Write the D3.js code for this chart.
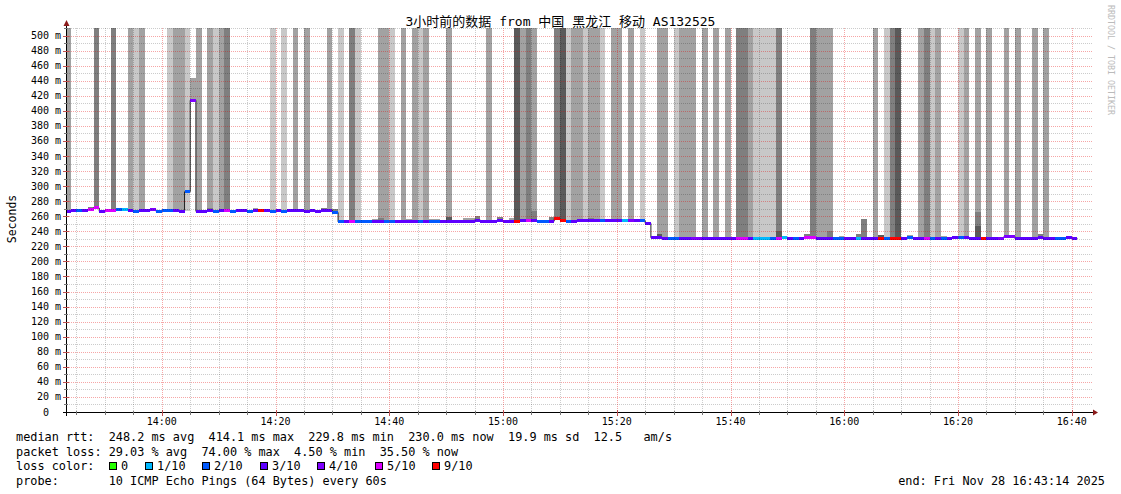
<!DOCTYPE html>
<html>
<head>
<meta charset="utf-8">
<script src="https://cdn.jsdelivr.net/npm/d3@7"></script>
<style>
body { margin: 0; background: #fff; }
svg text { font-family: "DejaVu Sans Mono", "Noto Sans CJK SC", monospace; fill: #000; }
</style>
</head>
<body>
<svg id="chart" width="1121" height="494"></svg>
<script>
// one value per minute, first bin starts 13:43
var median = [
  266.5, 268, 267.5, 267, 269, 271, 266.5, 268, 268, 268.5,
  268.5, 267.5, 266.5, 267.5, 267.5, 268.5, 266.5, 267.5, 267.5, 268,
  266.5, 292.5, 414, 266.5, 266.5, 267, 266.5, 267.5, 268, 266.5,
  267, 267.5, 266.5, 267.5, 267, 267.5, 266.5, 267.5, 266.5, 267.5,
  267.5, 267.5, 266.5, 267, 266.5, 268, 267.5, 265, 252.5, 253,
  253.5, 252.5, 252.5, 253, 253.5, 253.5, 253, 252.5, 253.5, 253.5,
  253.5, 253, 253, 253.5, 252.5, 252.5, 253.5, 253.5, 253.5, 252.5,
  253.5, 253.5, 255, 253.5, 253, 253.5, 254, 252.5, 253, 253,
  254, 254, 254, 253, 253, 253.5, 257, 255, 253, 253.5,
  254, 254.5, 254.5, 254.5, 254, 254.5, 254, 254, 254, 254.5,
  254, 254, 250.5, 231.5, 231.5, 230, 230, 230, 230.5, 230.5,
  230.5, 230.5, 231, 231, 230, 230.5, 230.5, 230.5, 231, 231,
  230, 230, 230, 230, 230.5, 231, 231.5, 230.5, 230, 230.5,
  232, 231.5, 231, 231, 230.5, 230.5, 230.5, 230.5, 230.5, 230,
  230.5, 230.5, 230.5, 230.5, 230.5, 230.5, 230.5, 230.5, 231.5, 230.5,
  230.5, 230, 231, 230.5, 230.5, 230.5, 231.5, 231.5, 231.5, 231,
  230.5, 230, 230.5, 230.5, 231, 232.5, 232.5, 230.5, 230.5, 230.5,
  231, 231.5, 231, 230.5, 230.5, 230.5, 231.5, 230.5
];

// lost pings out of 10
var loss = [
  3, 3, 2, 3, 5, 5, 3, 5, 5, 2,
  1, 3, 2, 3, 3, 4, 2, 2, 2, 3,
  3, 2, 4, 3, 3, 3, 2, 3, 5, 2,
  3, 3, 2, 3, 9, 3, 2, 3, 2, 3,
  3, 3, 3, 3, 3, 3, 3, 2, 2, 3,
  5, 2, 2, 2, 3, 3, 2, 2, 3, 3,
  3, 3, 2, 3, 2, 2, 3, 3, 3, 3,
  3, 3, 3, 3, 3, 3, 3, 3, 3, 9,
  3, 5, 3, 2, 2, 3, 9, 9, 2, 3,
  3, 3, 3, 3, 2, 3, 3, 3, 1, 4,
  3, 2, 3, 3, 3, 3, 2, 2, 3, 3,
  4, 4, 3, 3, 3, 3, 3, 3, 5, 5,
  3, 1, 1, 1, 2, 5, 1, 3, 2, 3,
  5, 5, 3, 3, 3, 2, 2, 3, 3, 1,
  3, 3, 3, 9, 2, 9, 9, 3, 2, 3,
  3, 5, 2, 3, 2, 3, 3, 2, 3, 3,
  3, 9, 3, 3, 4, 4, 4, 3, 3, 3,
  3, 3, 3, 3, 2, 2, 3, 3
];

// smoke above the median that runs off the top: 0 none, 1 light .. 4 dark
var smoke = [
  2, 0, 0, 0, 0, 3, 0, 0, 3, 0,
  0, 2, 1, 2, 0, 0, 0, 0, 1, 2,
  2, 1, 0, 2, 0, 2, 1, 2, 3, 0,
  0, 0, 0, 0, 0, 0, 1, 0, 1, 0,
  2, 0, 2, 0, 0, 0, 2, 0, 1, 0,
  3, 1, 0, 0, 0, 2, 2, 1, 0, 2,
  0, 2, 1, 2, 0, 0, 0, 2, 0, 0,
  0, 0, 0, 0, 2, 0, 0, 0, 0, 4,
  2, 3, 2, 0, 0, 0, 3, 4, 1, 2,
  2, 1, 2, 2, 1, 0, 2, 2, 0, 2,
  0, 1, 0, 0, 2, 2, 0, 1, 2, 2,
  2, 0, 2, 0, 2, 0, 2, 0, 3, 3,
  2, 1, 1, 1, 1, 3, 0, 0, 0, 0,
  0, 3, 2, 2, 2, 0, 0, 0, 0, 0,
  0, 0, 2, 0, 1, 3, 4, 0, 0, 0,
  2, 3, 1, 2, 0, 0, 0, 1, 2, 0,
  2, 0, 2, 0, 0, 2, 0, 2, 0, 0,
  2, 0, 2, 0, 0, 0, 0, 0
];

// smaller smoke bands: bin, low ms, high ms, shade
var capBin   = [1, 3, 4, 21, 22, 25, 33, 45, 47, 54, 55, 60, 64, 65, 67, 70, 71, 72, 76, 78, 82, 85, 92,
                104, 125, 130, 134, 136, 139, 140, 143, 148, 154, 160, 160, 171, 176];
var capLo    = [267, 267, 269, 266.5, 414, 267, 267.5, 268, 265, 253.5, 253.5, 253.5, 252.5, 252.5, 253.5, 253.5, 253.5, 255, 254, 253, 254, 253.5, 254.5,
                231.5, 231, 232, 230.5, 230.5, 230, 230.5, 230.5, 231.5, 230.5, 247, 230.5, 231.5, 231.5];
var capHi    = [269.5, 269.5, 272, 292.5, 444, 271, 271, 271, 269, 256, 258, 256, 256, 256, 259, 257, 257, 260, 259, 258, 266.5, 259, 258,
                237, 240, 237, 240, 234, 236.5, 256, 235, 235, 234, 265, 247, 236, 234];
var capShade = [3, 3, 3, 1, 2, 3, 2, 3, 3, 2, 3, 2, 2, 2, 4, 2, 2, 3, 3, 2, 3, 3, 3,
                4, 4, 3, 3, 2, 3, 3, 4, 2, 2, 3, 4, 3, 2];

var yTickValues = [0, 20, 40, 60, 80, 100, 120, 140, 160, 180, 200, 220, 240, 260, 280, 300,
                   320, 340, 360, 380, 400, 420, 440, 460, 480, 500];
var xTickLabels = ["14:00", "14:20", "14:40", "15:00", "15:20", "15:40", "16:00", "16:20", "16:40"];

var lossLevels = [0, 1, 2, 3, 4, 5, 9];
var lossLabels = ["0", "1/10", "2/10", "3/10", "4/10", "5/10", "9/10"];
var lossColors = ["#26ff00", "#00b8ff", "#0059ff", "#5e00ff", "#7e00ff", "#dd00ff", "#ff0000"];

var title = "3小时前的数据 from 中国 黑龙江 移动 AS132525";
var rttLine = "median rtt:  248.2 ms avg  414.1 ms max  229.8 ms min  230.0 ms now  19.9 ms sd  12.5   am/s";
var lossLine = "packet loss: 29.03 % avg  74.00 % max  4.50 % min  35.50 % now";
var probeLine = "probe:       10 ICMP Echo Pings (64 Bytes) every 60s";
var endLine = "end: Fri Nov 28 16:43:14 2025";

// chart size
var plotL = 67, plotR = 1093, plotT = 28, plotB = 412;
var shadeColor = ["none", "#c8c8c8", "#a2a2a2", "#7f7f7f", "#5a5a5a"];

var svg = d3.select("#chart");

var day = function(h, m, s) { return new Date(2025, 10, 28, h, m, s || 0); };
var x = d3.scaleTime().domain([day(13, 43, 20), day(16, 43, 44)]).range([plotL, plotR]);
var y = d3.scaleLinear().domain([0, 510]).range([plotB, plotT]);
var binStart = day(13, 43, 0);

function bx(i) { return x(d3.timeMinute.offset(binStart, i)); }
function lossColor(l) {
  var k = 0;
  lossLevels.forEach(function(v, j) { if (l >= v) k = j; });
  return lossColors[k];
}

svg.append("clipPath").attr("id", "plotclip")
  .append("rect").attr("x", plotL).attr("y", plotT).attr("width", plotR - plotL).attr("height", plotB - plotT);

var plot = svg.append("g").attr("clip-path", "url(#plotclip)");
var bins = d3.range(median.length);

// smoke that runs to the top
plot.selectAll("rect.smoke")
  .data(bins.filter(function(i) { return smoke[i] > 0; }))
  .enter().append("rect")
  .attr("x", function(i) { return bx(i); })
  .attr("width", function(i) { return bx(i + 1) - bx(i); })
  .attr("y", plotT)
  .attr("height", function(i) { return y(median[i]) - plotT; })
  .attr("fill", function(i) { return shadeColor[smoke[i]]; })
  .attr("shape-rendering", "crispEdges");

// smaller smoke bands
plot.selectAll("rect.cap")
  .data(d3.range(capBin.length))
  .enter().append("rect")
  .attr("x", function(k) { return bx(capBin[k]); })
  .attr("width", function(k) { return bx(capBin[k] + 1) - bx(capBin[k]); })
  .attr("y", function(k) { return y(capHi[k]); })
  .attr("height", function(k) { return y(capLo[k]) - y(capHi[k]); })
  .attr("fill", function(k) { return shadeColor[capShade[k]]; })
  .attr("shape-rendering", "crispEdges");

// grid
var parseHM = d3.timeParse("%Y-%m-%d %H:%M");
var xMajor = xTickLabels.map(function(s) { return parseHM("2025-11-28 " + s); });
var xMinor = d3.timeMinute.every(5).range(x.domain()[0], x.domain()[1])
  .filter(function(d) { return d.getMinutes() % 20 !== 0; });
var yMinor = d3.range(10, 511, 10).filter(function(v) { return v % 20 !== 0; });
var yMajor = yTickValues.filter(function(v) { return v > 0; });

var grid = svg.append("g").attr("shape-rendering", "crispEdges").attr("stroke-dasharray", "1,1");
grid.selectAll("line.vminor").data(xMinor).enter().append("line")
  .attr("x1", function(d) { return Math.round(x(d)) + 0.5; })
  .attr("x2", function(d) { return Math.round(x(d)) + 0.5; })
  .attr("y1", plotT).attr("y2", plotB)
  .attr("stroke", "rgba(0,0,0,0.2)");
grid.selectAll("line.hminor").data(yMinor).enter().append("line")
  .attr("x1", plotL).attr("x2", plotR)
  .attr("y1", function(v) { return Math.round(y(v)) + 0.5; })
  .attr("y2", function(v) { return Math.round(y(v)) + 0.5; })
  .attr("stroke", "rgba(0,0,0,0.2)");
grid.selectAll("line.vmajor").data(xMajor).enter().append("line")
  .attr("x1", function(d) { return Math.round(x(d)) + 0.5; })
  .attr("x2", function(d) { return Math.round(x(d)) + 0.5; })
  .attr("y1", plotT).attr("y2", plotB)
  .attr("stroke", "rgba(230,0,0,0.35)");
grid.selectAll("line.hmajor").data(yMajor).enter().append("line")
  .attr("x1", plotL).attr("x2", plotR)
  .attr("y1", function(v) { return Math.round(y(v)) + 0.5; })
  .attr("y2", function(v) { return Math.round(y(v)) + 0.5; })
  .attr("stroke", "rgba(230,0,0,0.35)");

// median step line
var stepPts = bins.map(function(i) { return [bx(i), y(median[i])]; });
stepPts.push([bx(median.length), y(median[median.length - 1])]);
plot.append("path")
  .attr("d", d3.line().curve(d3.curveStepAfter)(stepPts))
  .attr("fill", "none")
  .attr("stroke", "#202020")
  .attr("stroke-width", 1);

// median marks coloured by loss
plot.selectAll("rect.med")
  .data(bins)
  .enter().append("rect")
  .attr("x", function(i) { return bx(i); })
  .attr("width", function(i) { return bx(i + 1) - bx(i); })
  .attr("y", function(i) { return y(median[i]) - 1.5; })
  .attr("height", 3)
  .attr("fill", function(i) { return lossColor(loss[i]); })
  .attr("shape-rendering", "crispEdges");

// axes
var axes = svg.append("g").attr("shape-rendering", "crispEdges").attr("stroke", "#000");
axes.append("line").attr("x1", 63).attr("x2", plotR).attr("y1", plotB + 0.5).attr("y2", plotB + 0.5);
axes.append("line").attr("x1", plotL - 0.5).attr("x2", plotL - 0.5).attr("y1", plotB + 4).attr("y2", 26);
axes.selectAll("line.xt").data(xMinor).enter().append("line")
  .attr("x1", function(d) { return Math.round(x(d)) + 0.5; })
  .attr("x2", function(d) { return Math.round(x(d)) + 0.5; })
  .attr("y1", plotB - 1).attr("y2", plotB + 3).attr("stroke", "#777");
axes.selectAll("line.xT").data(xMajor).enter().append("line")
  .attr("x1", function(d) { return Math.round(x(d)) + 0.5; })
  .attr("x2", function(d) { return Math.round(x(d)) + 0.5; })
  .attr("y1", plotB - 2).attr("y2", plotB + 4).attr("stroke", "#c05050");
axes.selectAll("line.yt").data(yMinor).enter().append("line")
  .attr("y1", function(v) { return Math.round(y(v)) + 0.5; })
  .attr("y2", function(v) { return Math.round(y(v)) + 0.5; })
  .attr("x1", plotL - 3).attr("x2", plotL + 1).attr("stroke", "#777");
axes.selectAll("line.yT").data(yMajor).enter().append("line")
  .attr("y1", function(v) { return Math.round(y(v)) + 0.5; })
  .attr("y2", function(v) { return Math.round(y(v)) + 0.5; })
  .attr("x1", plotL - 4).attr("x2", plotL + 2).attr("stroke", "#c05050");

// arrows
svg.append("path").attr("d", "M" + plotR + "," + (plotB - 2.5) + "L" + (plotR + 5) + "," + (plotB + 0.5) + "L" + plotR + "," + (plotB + 3.5) + "Z")
  .attr("fill", "#8b1a1a");
svg.append("path").attr("d", "M" + (plotL - 3.5) + ",26L" + (plotL - 0.5) + ",20L" + (plotL + 2.5) + ",26Z")
  .attr("fill", "#8b1a1a");

// tick labels
svg.selectAll("text.yl").data(yTickValues).enter().append("text")
  .attr("x", function(v) { return v === 0 ? 49 : 61; })
  .attr("y", function(v) { return y(v) + 3.5; })
  .attr("text-anchor", "end")
  .style("font-size", "10px")
  .text(function(v) { return v === 0 ? "0" : v + " m"; });

svg.selectAll("text.xl").data(xMajor).enter().append("text")
  .attr("x", function(d) { return x(d); })
  .attr("y", 424.5)
  .attr("text-anchor", "middle")
  .style("font-size", "10px")
  .text(function(d, i) { return xTickLabels[i]; });

// title and side texts
svg.append("text").attr("x", 560.5).attr("y", 26).attr("text-anchor", "middle")
  .style("font-size", "13px").text(title);

svg.append("text").attr("transform", "translate(15.5,219) rotate(-90)").attr("text-anchor", "middle")
  .style("font-size", "11.5px").text("Seconds");

svg.append("text").attr("transform", "translate(1108,5) rotate(90)")
  .style("font-size", "8.3px").style("fill", "#bbb").text("RRDTOOL / TOBI OETIKER");

// legend
var charW = 7.17;
function legendText(s, px, py) {
  svg.append("text").attr("x", px).attr("y", py)
    .attr("xml:space", "preserve").style("white-space", "pre")
    .style("font-size", "11.85px").text(s);
}
legendText(rttLine, 16, 441);
legendText(lossLine, 16, 455.5);
legendText("loss color:", 16, 470);
legendText(probeLine, 16, 484.5);

var col = 13;
lossLabels.forEach(function(lab, j) {
  var bxp = Math.round(16 + col * charW);
  svg.append("rect").attr("x", bxp + 0.5).attr("y", 462.5).attr("width", 7).attr("height", 7)
    .attr("fill", lossColors[j]).attr("stroke", "#000").attr("shape-rendering", "crispEdges");
  legendText(lab, bxp + 12, 470);
  col += 2 + lab.length + 2;
});

svg.append("text").attr("x", 1105).attr("y", 484.5).attr("text-anchor", "end")
  .style("font-size", "11.85px").text(endLine);
</script>
</body>
</html>
